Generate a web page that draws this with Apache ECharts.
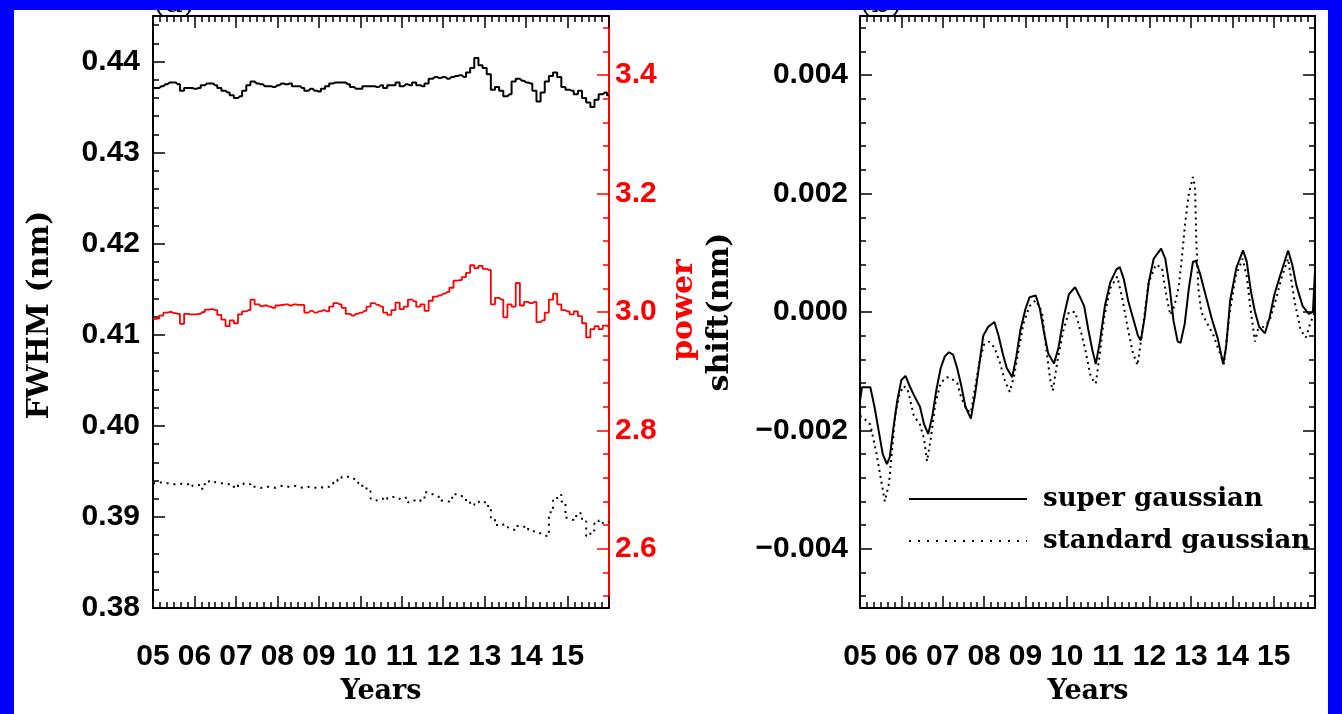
<!DOCTYPE html>
<html><head><meta charset="utf-8">
<script src="https://cdn.jsdelivr.net/npm/echarts@6/dist/echarts.min.js"></script>
<style>html,body{margin:0;padding:0;background:#0000ff;}#c{width:1342px;height:714px;}</style>
</head><body><div id="c"></div><script>
// ---------- data ----------
const leftYears = [2005.0,2005.1,2005.2,2005.3,2005.4,2005.5,2005.6,2005.7,2005.8,2005.9,
2006.0,2006.1,2006.2,2006.3,2006.4,2006.5,2006.6,2006.7,2006.8,2006.9,
2007.0,2007.1,2007.2,2007.3,2007.4,2007.5,2007.6,2007.7,2007.8,2007.9,
2008.0,2008.1,2008.2,2008.3,2008.4,2008.5,2008.6,2008.7,2008.8,2008.9,
2009.0,2009.1,2009.2,2009.3,2009.4,2009.5,2009.6,2009.7,2009.8,2009.9,
2010.0,2010.1,2010.2,2010.3,2010.4,2010.5,2010.6,2010.7,2010.8,2010.9,
2011.0,2011.1,2011.2,2011.3,2011.4,2011.5,2011.6,2011.7,2011.8,2011.9,
2012.0,2012.1,2012.2,2012.3,2012.4,2012.5,2012.6,2012.7,2012.8,2012.9,
2013.0,2013.1,2013.2,2013.3,2013.4,2013.5,2013.6,2013.7,2013.8,2013.9,
2014.0,2014.1,2014.2,2014.3,2014.4,2014.5,2014.6,2014.7,2014.8,2014.9,
2015.0,2015.1,2015.2,2015.3,2015.4,2015.5,2015.6,2015.7,2015.8,2015.9,2016.0];

const fwhmSuper = [0.4371,0.4371,0.4373,0.4375,0.4377,0.4377,0.4375,0.4368,0.4371,0.4371,
0.4370,0.4371,0.4374,0.4376,0.4376,0.4374,0.4371,0.4368,0.4366,0.4363,
0.4360,0.4362,0.4368,0.4374,0.4378,0.4376,0.4375,0.4373,0.4373,0.4372,
0.4374,0.4376,0.4375,0.4376,0.4373,0.4373,0.4371,0.4368,0.4370,0.4368,
0.4367,0.4370,0.4373,0.4376,0.4377,0.4377,0.4377,0.4375,0.4372,0.4370,
0.4370,0.4373,0.4373,0.4373,0.4372,0.4374,0.4371,0.4374,0.4374,0.4377,
0.4373,0.4375,0.4374,0.4377,0.4374,0.4373,0.4376,0.4381,0.4383,0.4382,
0.4383,0.4381,0.4383,0.4384,0.4385,0.4383,0.4388,0.4393,0.4404,0.4396,
0.4393,0.4386,0.4369,0.4372,0.4368,0.4362,0.4364,0.4378,0.4381,0.4379,
0.4377,0.4376,0.4368,0.4356,0.4366,0.4378,0.4384,0.4388,0.4383,0.4372,
0.4369,0.4368,0.4364,0.4368,0.4360,0.4355,0.4350,0.4358,0.4364,0.4366,0.4363];

const powerSuper = [2.988,2.989,2.994,2.999,3.000,2.998,2.997,2.980,2.997,2.996,
2.996,2.997,3.000,3.004,3.005,3.003,2.995,2.987,2.976,2.986,
2.981,2.996,3.001,3.003,3.021,3.013,3.010,3.011,3.009,3.007,
3.011,3.012,3.013,3.011,3.013,3.012,3.012,2.999,3.002,2.999,
3.001,3.003,3.001,3.009,3.015,3.013,3.007,2.997,2.994,2.997,
2.999,3.002,3.009,3.015,3.012,3.009,2.999,2.995,3.003,3.016,
3.005,3.009,3.021,3.018,3.009,3.013,3.002,3.019,3.026,3.028,
3.031,3.034,3.041,3.053,3.054,3.059,3.066,3.079,3.074,3.078,
3.073,3.071,3.013,3.024,3.021,2.991,3.013,3.009,3.049,3.011,
3.017,3.015,3.017,2.983,2.986,2.999,3.021,3.031,3.013,3.003,
3.001,2.996,3.001,2.993,2.981,2.957,2.971,2.976,2.971,2.977,2.974];

const fwhmStd = [0.3937,0.3937,0.3938,0.3937,0.3937,0.3936,0.3937,0.3936,0.3936,0.3937,
0.3934,0.3935,0.3931,0.3939,0.3940,0.3938,0.3937,0.3937,0.3936,0.3935,
0.3932,0.3935,0.3937,0.3936,0.3933,0.3933,0.3932,0.3933,0.3933,0.3932,
0.3933,0.3934,0.3933,0.3933,0.3934,0.3933,0.3932,0.3933,0.3932,0.3932,
0.3933,0.3932,0.3933,0.3935,0.3938,0.3941,0.3944,0.3944,0.3942,0.3940,
0.3937,0.3933,0.3928,0.3920,0.3918,0.3920,0.3918,0.3921,0.3922,0.3920,
0.3919,0.3921,0.3916,0.3918,0.3917,0.3920,0.3927,0.3925,0.3923,0.3922,
0.3918,0.3917,0.3921,0.3925,0.3923,0.3921,0.3916,0.3913,0.3916,0.3918,
0.3916,0.3912,0.3899,0.3891,0.3892,0.3889,0.3887,0.3886,0.3890,0.3889,
0.3890,0.3886,0.3884,0.3882,0.3880,0.3879,0.3905,0.3918,0.3924,0.3917,
0.3899,0.3897,0.3901,0.3904,0.3895,0.3879,0.3885,0.3893,0.3896,0.3893,0.3895];

const shiftSuperYears = [2005.00,2005.05,2005.25,2005.35,2005.45,2005.55,2005.65,2005.72,2005.80,2005.90,
2006.00,2006.10,2006.20,2006.30,2006.45,2006.55,2006.65,2006.75,2006.85,2006.95,
2007.05,2007.15,2007.25,2007.35,2007.45,2007.55,2007.68,2007.78,2007.88,2007.98,
2008.10,2008.25,2008.35,2008.45,2008.55,2008.68,2008.78,2008.88,2009.00,
2009.10,2009.25,2009.35,2009.45,2009.55,2009.69,2009.80,2009.92,
2010.05,2010.20,2010.32,2010.42,2010.52,2010.62,2010.70,2010.80,2010.92,
2011.05,2011.20,2011.28,2011.38,2011.48,2011.60,2011.72,2011.79,2011.88,2011.98,
2012.10,2012.28,2012.38,2012.48,2012.58,2012.68,2012.75,2012.85,2012.95,
2013.05,2013.12,2013.22,2013.35,2013.50,2013.65,2013.78,2013.85,2013.95,
2014.10,2014.26,2014.35,2014.45,2014.55,2014.65,2014.79,2014.90,
2015.02,2015.15,2015.35,2015.45,2015.55,2015.70,2015.85,2015.95,2016.00];
const shiftSuper = [-0.00150,-0.00127,-0.00127,-0.00160,-0.00200,-0.00240,-0.00257,-0.00245,-0.00200,-0.00150,
-0.00115,-0.00108,-0.00125,-0.00140,-0.00160,-0.00190,-0.00206,-0.00175,-0.00130,-0.00095,
-0.00075,-0.00068,-0.00072,-0.00095,-0.00125,-0.00160,-0.00180,-0.00140,-0.00090,-0.00040,
-0.00025,-0.00017,-0.00040,-0.00070,-0.00095,-0.00110,-0.00075,-0.00030,0.00005,
0.00025,0.00028,0.00005,-0.00035,-0.00070,-0.00087,-0.00060,-0.00010,
0.00030,0.00042,0.00025,0.00010,-0.00030,-0.00065,-0.00088,-0.00050,0.00010,
0.00050,0.00072,0.00076,0.00055,0.00020,-0.00010,-0.00040,-0.00048,-0.00010,0.00050,
0.00090,0.00107,0.00090,0.00045,-0.00015,-0.00050,-0.00052,-0.00020,0.00040,
0.00085,0.00086,0.00065,0.00030,-0.00010,-0.00045,-0.00088,-0.00060,0.00020,
0.00075,0.00104,0.00085,0.00035,0.00000,-0.00025,-0.00036,-0.00010,
0.00030,0.00060,0.00104,0.00080,0.00045,0.00010,-0.00003,0.00000,0.00070];

const shiftStdYears = [2005.00,2005.10,2005.25,2005.40,2005.50,2005.60,2005.70,2005.78,2005.85,2005.95,
2006.05,2006.15,2006.30,2006.45,2006.55,2006.62,2006.72,2006.82,2006.95,
2007.10,2007.22,2007.35,2007.45,2007.58,2007.68,2007.80,2007.90,
2008.00,2008.12,2008.25,2008.38,2008.50,2008.62,2008.72,2008.82,2008.95,
2009.10,2009.25,2009.40,2009.50,2009.60,2009.66,2009.78,2009.92,
2010.05,2010.20,2010.35,2010.45,2010.58,2010.70,2010.80,2010.90,
2011.05,2011.22,2011.35,2011.48,2011.60,2011.71,2011.85,2011.98,
2012.15,2012.30,2012.40,2012.50,2012.60,2012.70,2012.78,2012.86,2012.95,
2013.05,2013.10,2013.13,2013.18,2013.25,2013.40,2013.55,2013.65,2013.80,2013.92,
2014.08,2014.25,2014.35,2014.45,2014.55,2014.62,2014.75,2014.90,
2015.05,2015.20,2015.35,2015.50,2015.65,2015.78,2015.88,2016.00];
const shiftStd = [-0.00175,-0.00180,-0.00190,-0.00240,-0.00280,-0.00320,-0.00290,-0.00230,-0.00175,-0.00140,
-0.00125,-0.00130,-0.00175,-0.00190,-0.00215,-0.00252,-0.00210,-0.00155,-0.00120,
-0.00110,-0.00113,-0.00120,-0.00145,-0.00165,-0.00170,-0.00120,-0.00080,
-0.00055,-0.00050,-0.00060,-0.00085,-0.00115,-0.00135,-0.00110,-0.00070,-0.00020,
0.00010,0.00020,0.00000,-0.00060,-0.00115,-0.00133,-0.00080,-0.00030,
0.00000,0.00000,-0.00036,-0.00065,-0.00110,-0.00121,-0.00070,-0.00010,
0.00040,0.00060,0.00020,-0.00030,-0.00070,-0.00090,-0.00020,0.00050,
0.00080,0.00075,0.00030,-0.00005,0.00010,0.00040,0.00090,0.00150,0.00200,
0.00228,0.00210,0.00120,0.00040,0.00000,-0.00020,-0.00040,-0.00060,-0.00088,-0.00010,
0.00060,0.00090,0.00060,0.00000,-0.00050,-0.00030,-0.00025,-0.00015,
0.00020,0.00060,0.00090,0.00020,-0.00030,-0.00043,-0.00020,0.00000];

const fwhmTicks  = [0.38,0.39,0.40,0.41,0.42,0.43,0.44];
const powerTicks = [2.6,2.8,3.0,3.2,3.4];
const shiftTicks = [-0.004,-0.002,0.000,0.002,0.004];
const yearLabels = ['05','06','07','08','09','10','11','12','13','14','15'];

// ---------- helpers ----------
const FONT_TICK = "'Liberation Sans',Arial,sans-serif";
const FONT_TITLE = "'DejaVu Serif',serif";
const zip = (xs, ys) => xs.map((x, i) => [x, ys[i]]);

function minorValues(majors, step, lo, hi) {
  const out = [];
  const s = majors[0];
  const kMin = -Math.floor((s - lo) / step + 1e-6);
  const kMax = Math.floor((hi - s) / step + 1e-6);
  for (let k = kMin; k <= kMax; k++) {
    const v = +(s + k * step).toFixed(8);
    if (v <= lo + 1e-9 || v >= hi - 1e-9) continue;
    if (majors.some(m => Math.abs(m - v) < step / 10)) continue;
    out.push(v);
  }
  return out;
}
function fmt(v, d) {
  const s = Math.abs(v) < 1e-12 ? (0).toFixed(d) : v.toFixed(d);
  return s.replace('-', '\u2212');
}
function xAx(gridIndex, position, showLabel) {
  return {
    type: 'value', gridIndex, position, min: 2005, max: 2016, interval: 1,
    axisLine: { show: true, onZero: false, lineStyle: { color: '#000', width: 2 } },
    axisTick: { show: true, inside: true, length: 12, lineStyle: { color: '#000', width: 1.5 } },
    minorTick: { show: true, splitNumber: 6, length: 6, lineStyle: { color: '#000', width: 1.5 } },
    splitLine: { show: false }, minorSplitLine: { show: false },
    axisLabel: { show: showLabel, margin: 34, fontFamily: FONT_TICK, fontWeight: 'bold', fontSize: 30, color: '#000',
      formatter: v => { const i = Math.round(v) - 2005; return yearLabels[i] !== undefined ? yearLabels[i] : ''; } }
  };
}
function yMajor(gridIndex, position, min, max, majors, color, showLabel, digits, margin) {
  return {
    type: 'value', gridIndex, position, min, max,
    axisLine: { show: true, onZero: false, lineStyle: { color, width: 2 } },
    axisTick: { show: true, inside: true, length: 12, customValues: majors, lineStyle: { color, width: 1.5 } },
    axisLabel: { show: showLabel, customValues: majors, margin, fontFamily: FONT_TICK, fontWeight: 'bold', fontSize: 30, color,
      formatter: v => fmt(v, digits) },
    splitLine: { show: false }
  };
}
function yMinor(gridIndex, position, min, max, minors, color) {
  return {
    type: 'value', gridIndex, position, min, max,
    axisLine: { show: false, onZero: false },
    axisTick: { show: true, inside: true, length: 6, customValues: minors, lineStyle: { color, width: 1.5 } },
    axisLabel: { show: false }, splitLine: { show: false }
  };
}

const fwhmMinor  = minorValues(fwhmTicks, 0.002, 0.38, 0.445);
const powerMinor = minorValues(powerTicks, 0.04, 2.5, 3.5);
const shiftMinor = minorValues(shiftTicks, 0.0004, -0.005, 0.005);

const RED = '#ff0000';
const titleStyle = (text, size, fill) => ({ text, fontFamily: FONT_TITLE, fontWeight: 'bold', fontSize: size, fill, align: 'center', verticalAlign: 'middle' });
const chart = echarts.init(document.getElementById('c'), null, { renderer: 'canvas' });
chart.setOption({
  animation: false,
  backgroundColor: '#0000ff',
  grid: [
    { left: 153, top: 16, width: 456, height: 592 },
    { left: 860, top: 16, width: 455, height: 592 }
  ],
  xAxis: [ xAx(0, 'bottom', true), xAx(0, 'top', false), xAx(1, 'bottom', true), xAx(1, 'top', false) ],
  yAxis: [
    yMajor(0, 'left', 0.38, 0.445, fwhmTicks, '#000', true, 2, 13),
    yMinor(0, 'left', 0.38, 0.445, fwhmMinor, '#000'),
    yMajor(0, 'right', 2.5, 3.5, powerTicks, RED, true, 1, 6),
    yMinor(0, 'right', 2.5, 3.5, powerMinor, RED),
    yMajor(1, 'left', -0.005, 0.005, shiftTicks, '#000', true, 3, 12),
    yMinor(1, 'left', -0.005, 0.005, shiftMinor, '#000'),
    yMajor(1, 'right', -0.005, 0.005, shiftTicks, '#000', false, 3, 12),
    yMinor(1, 'right', -0.005, 0.005, shiftMinor, '#000')
  ],
  legend: {
    data: [
      { name: 'super gaussian' },
      { name: 'standard gaussian', lineStyle: { type: [2, 7] } }
    ],
    orient: 'vertical', left: 903, top: 481, itemWidth: 118, itemHeight: 20, itemGap: 16,
    itemStyle: { opacity: 0 },
    textStyle: { fontFamily: FONT_TITLE, fontWeight: 'bold', fontSize: 26, color: '#000', padding: [0, 0, 0, 11] },
    selectedMode: false
  },
  series: [
    { name: 'FWHM super', type: 'line', step: 'middle', xAxisIndex: 0, yAxisIndex: 0, data: zip(leftYears, fwhmSuper),
      showSymbol: false, symbol: 'none', lineStyle: { color: '#000', width: 2 } },
    { name: 'power', type: 'line', step: 'middle', xAxisIndex: 0, yAxisIndex: 2, data: zip(leftYears, powerSuper),
      showSymbol: false, symbol: 'none', lineStyle: { color: RED, width: 1.8 } },
    { name: 'FWHM standard', type: 'line', step: 'middle', xAxisIndex: 0, yAxisIndex: 0, data: zip(leftYears, fwhmStd),
      showSymbol: false, symbol: 'none', lineStyle: { color: '#000', width: 2, type: [2, 5] } },
    { name: 'super gaussian', type: 'line', xAxisIndex: 2, yAxisIndex: 4, data: zip(shiftSuperYears, shiftSuper),
      showSymbol: false, symbol: 'none', color: '#000', lineStyle: { color: '#000', width: 2 } },
    { name: 'standard gaussian', type: 'line', xAxisIndex: 2, yAxisIndex: 4, data: zip(shiftStdYears, shiftStd),
      showSymbol: false, symbol: 'none', color: '#000', lineStyle: { color: '#000', width: 2, type: [2, 4] } }
  ],
  graphic: [
    { type: 'rect', z: -100, shape: { x: 14, y: 10, width: 1314, height: 704 }, style: { fill: '#ffffff' } },
    { type: 'text', z: 50, x: 174, y: 4, style: { text: '(a)', fontFamily: FONT_TITLE, fontSize: 30, fill: '#000', align: 'center', verticalAlign: 'middle' } },
    { type: 'text', z: 50, x: 881, y: 4, style: { text: '(b)', fontFamily: FONT_TITLE, fontSize: 30, fill: '#000', align: 'center', verticalAlign: 'middle' } },
    { type: 'rect', z: 100, shape: { x: 0, y: 0, width: 1342, height: 10 }, style: { fill: '#0000ff' } },
    { type: 'text', z: 10, x: 40, y: 315, rotation: Math.PI / 2, style: titleStyle('FWHM (nm)', 30, '#000') },
    { type: 'text', z: 10, x: 684, y: 310, rotation: Math.PI / 2, style: titleStyle('power', 30, RED) },
    { type: 'text', z: 10, x: 720, y: 312, rotation: Math.PI / 2, style: titleStyle('shift(nm)', 30, '#000') },
    { type: 'text', z: 10, x: 381, y: 692, style: titleStyle('Years', 27, '#000') },
    { type: 'text', z: 10, x: 1088, y: 692, style: titleStyle('Years', 27, '#000') }
  ]
});
</script></body></html>
